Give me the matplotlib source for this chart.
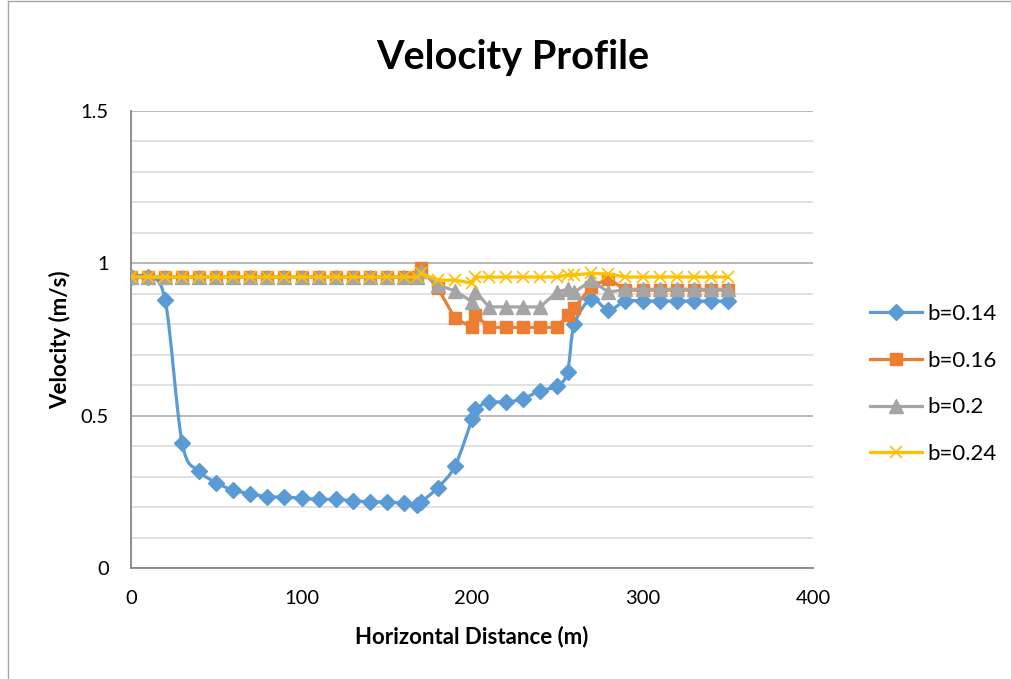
import numpy as np
import matplotlib.pyplot as plt
from matplotlib.path import Path
from matplotlib.patches import PathPatch
from matplotlib.lines import Line2D

plt.rcParams['font.family'] = ['Lato', 'DejaVu Sans']

# horizontal distance (m), shared by all runs
dist = [0, 10, 20, 30, 40, 50, 60, 70, 80, 90, 100, 110, 120, 130, 140, 150, 160,
        168, 170, 180, 190, 200, 202, 210, 220, 230, 240, 250, 256, 260, 270, 280,
        290, 300, 310, 320, 330, 340, 350]

# velocity (m/s) for each b
v_014 = [0.955, 0.955, 0.88, 0.41, 0.318, 0.28, 0.255, 0.244, 0.234, 0.233, 0.229,
         0.225, 0.225, 0.221, 0.217, 0.217, 0.212, 0.207, 0.216, 0.264, 0.335, 0.488,
         0.521, 0.545, 0.544, 0.556, 0.582, 0.597, 0.644, 0.80, 0.882, 0.847, 0.876,
         0.876, 0.876, 0.876, 0.876, 0.876, 0.876]
v_016 = [0.955] * 18 + [0.984, 0.918, 0.82, 0.79, 0.83, 0.79, 0.79, 0.79, 0.79, 0.79,
                        0.83, 0.855, 0.923, 0.95, 0.912, 0.912, 0.912, 0.912, 0.912,
                        0.912, 0.912]
v_020 = [0.955] * 18 + [0.975, 0.928, 0.91, 0.874, 0.907, 0.857, 0.857, 0.857, 0.857,
                        0.907, 0.915, 0.905, 0.945, 0.905, 0.915, 0.915, 0.915, 0.915,
                        0.915, 0.915, 0.915]
v_024 = [0.955] * 18 + [0.967, 0.945, 0.945, 0.935, 0.955, 0.955, 0.955, 0.955, 0.955,
                        0.955, 0.962, 0.962, 0.967, 0.965, 0.955, 0.955, 0.955, 0.955,
                        0.955, 0.955, 0.955]

labels = ['b=0.14', 'b=0.16', 'b=0.2', 'b=0.24']
colors = ['#5B9BD5', '#ED7D31', '#A5A5A5', '#FFC000']


def smooth_path(x, y):
    """Bezier path through the points (Catmull-Rom style control points)"""
    x = np.asarray(x, float)
    y = np.asarray(y, float)
    pts = np.column_stack([x, y])
    verts = [pts[0]]
    codes = [Path.MOVETO]
    n = len(pts)
    for i in range(n - 1):
        p0 = pts[max(i - 1, 0)]
        p1 = pts[i]
        p2 = pts[i + 1]
        p3 = pts[min(i + 2, n - 1)]
        c1 = p1 + (p2 - p0) / 6.0
        c2 = p2 - (p3 - p1) / 6.0
        verts += [c1, c2, p2]
        codes += [Path.CURVE4] * 3
    return Path(verts, codes)


fig = plt.figure(figsize=(10.11, 6.79), dpi=100)
ax = fig.add_axes([0.1296, 0.1635, 0.6746, 0.673])

# marker styles per series
styles = [dict(marker='D', ms=8),
          dict(marker='s', ms=9),
          dict(marker='^', ms=10),
          dict(marker='x', ms=9, mew=1.2)]

# b=0.14 is drawn as a smoothed line
ax.add_patch(PathPatch(smooth_path(dist, v_014), facecolor='none',
                       edgecolor=colors[0], lw=2.3, zorder=3))
ax.plot(dist, v_014, ls='none', color=colors[0], zorder=3, **styles[0])
ax.plot(dist, v_016, color=colors[1], lw=2.3, zorder=4, **styles[1])
ax.plot(dist, v_020, color=colors[2], lw=2.3, zorder=5, **styles[2])
ax.plot(dist, v_024, color=colors[3], lw=2.3, zorder=6, **styles[3])

ax.set_xlim(0, 400)
ax.set_ylim(0, 1.5)
ax.set_xticks([0, 100, 200, 300, 400])
ax.set_yticks([0, 0.5, 1, 1.5])
ax.set_yticklabels(['0', '0.5', '1', '1.5'])
ax.set_yticks(np.arange(0.1, 1.5, 0.1), minor=True)
ax.tick_params(which='both', length=0, labelsize=14.5, colors='#000000')
ax.tick_params(axis='x', pad=16)
ax.tick_params(axis='y', pad=16)
ax.grid(axis='y', which='major', color='#A6A6A6', lw=1.1, zorder=0)
ax.grid(axis='y', which='minor', color='#D9D9D9', lw=1.1, zorder=0)
ax.set_axisbelow(True)

for side in ['top', 'right']:
    ax.spines[side].set_visible(False)
for side in ['left', 'bottom']:
    ax.spines[side].set_color('#868686')
    ax.spines[side].set_linewidth(1.3)

ax.set_xlabel('Horizontal Distance (m)', fontsize=16, fontweight='bold', labelpad=13)
ax.set_ylabel('Velocity (m/s)', fontsize=16, fontweight='bold', labelpad=7)
fig.text(0.507, 0.915, 'Velocity Profile', ha='center', va='center',
         fontsize=28.5, fontweight='bold')

handles = [Line2D([], [], color=c, lw=2.3, **s) for c, s in zip(colors, styles)]
fig.legend(handles, labels, loc='center left', bbox_to_anchor=(0.861, 0.4345),
           frameon=False, fontsize=16, handlelength=2.3, handletextpad=0.25,
           labelspacing=1.2, borderpad=0, borderaxespad=0)

# chart area border (left and top edges)
fig.add_artist(Line2D([0.0075, 0.0075], [0, 0.998], transform=fig.transFigure,
                      color='#A6A6A6', lw=1))
fig.add_artist(Line2D([0.0075, 1], [0.998, 0.998], transform=fig.transFigure,
                      color='#A6A6A6', lw=1))

fig.savefig('out.png', dpi=100)
